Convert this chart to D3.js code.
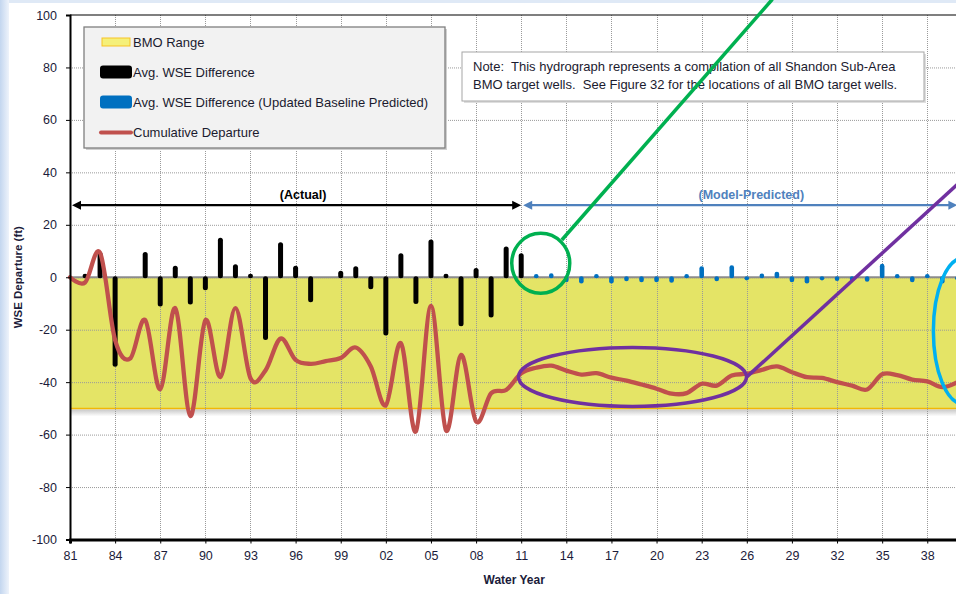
<!DOCTYPE html>
<html lang="en">
<head>
<meta charset="UTF-8">
<title>Shandon Sub-Area BMO hydrograph</title>
<script src="https://d3js.org/d3.v7.min.js"></script>
<style>
  body { margin: 0; background: #fff; }
  svg { display: block; font-family: "Liberation Sans", Arial, sans-serif; }
  text { white-space: pre; }
</style>
</head>
<body>
<div id="chart"></div>
<script>
// ---- data ----
var actualYears = [1981, 1982, 1983, 1984, 1985, 1986, 1987, 1988, 1989, 1990,
                   1991, 1992, 1993, 1994, 1995, 1996, 1997, 1998, 1999, 2000,
                   2001, 2002, 2003, 2004, 2005, 2006, 2007, 2008, 2009, 2010, 2011];
var actualDiff = [0, 0.5, 10, -34.5, 0, 10, -11.5, 4.8, -10.8, -5.3,
                  15.4, 5.3, 0.9, -24.3, 13.7, 4.8, -9.9, 0, 2.9, 4.6,
                  -5, -22.6, 9.5, -10.6, 14.8, 1.2, -19.1, 3.9, -15.7, 12.1, 9.5];

var predYears = [2012, 2013, 2014, 2015, 2016, 2017, 2018, 2019, 2020, 2021,
                 2022, 2023, 2024, 2025, 2026, 2027, 2028, 2029, 2030, 2031,
                 2032, 2033, 2034, 2035, 2036, 2037, 2038, 2039, 2040];
var predDiff = [1.5, 1.9, -2.3, -2.8, 1.0, -2.8, -1.9, -2.3, -2.3, -2.5,
                0.6, 4.6, -1.9, 5.0, -1.3, 1.8, 2.5, -2.3, -2.8, -0.8,
                -1.8, -1.8, -2.1, 5.5, 0.8, -2.3, 0.6, -2.8, -1.5];

var cumDeparture = [0, -2, 9.3, -24, -31, -16.3, -42.7, -11.8, -52.9, -16.4,
                    -38, -11.8, -38.5, -35.5, -23.4, -31.5, -33, -32, -30.8, -26.8,
                    -34, -48.8, -25.1, -58.8, -10.9, -58.4, -29.6, -55, -44.2, -43,
                    -36.6, -34.5, -33.7, -35.6, -37.1, -36.6, -38.3, -39.4, -40.9, -42.5,
                    -44.4, -44.2, -40.6, -41.3, -37.5, -36.8, -35.3, -34, -36.2, -38.1,
                    -38.4, -40, -41.3, -42.8, -37, -37.3, -39, -39.7, -41.9, -40];

var bmoRange = [0, -50];
var yTicks = [-100, -80, -60, -40, -20, 0, 20, 40, 60, 80, 100];
var xTicks = [1981, 1984, 1987, 1990, 1993, 1996, 1999, 2002, 2005, 2008,
              2011, 2014, 2017, 2020, 2023, 2026, 2029, 2032, 2035, 2038];
var legendLabels = ["BMO Range", "Avg. WSE Difference",
                    "Avg. WSE Difference (Updated Baseline Predicted)", "Cumulative Departure"];
var noteLines = ["Note:  This hydrograph represents a compilation of all Shandon Sub-Area",
                 "BMO target wells.  See Figure 32 for the locations of all BMO target wells."];

// ---- layout ----
var W = 956, H = 594;
var plotLeft = 70, plotTop = 15, plotBottom = 539.5;
var yearPx = 15.04;

var svg = d3.select("#chart").append("svg")
  .attr("width", W).attr("height", H);

var defs = svg.append("defs");
var edge = defs.append("linearGradient").attr("id", "edge");
edge.append("stop").attr("offset", "0%").attr("stop-color", "#c3d6ef");
edge.append("stop").attr("offset", "100%").attr("stop-color", "#eef3fb");
var shade = defs.append("linearGradient").attr("id", "shade")
  .attr("x1", 0).attr("y1", 0).attr("x2", 0).attr("y2", 1);
shade.append("stop").attr("offset", "0%").attr("stop-color", "#c8c8c8");
shade.append("stop").attr("offset", "100%").attr("stop-color", "#ffffff");

// page edges
svg.append("rect").attr("width", W).attr("height", 3).attr("fill", "#dfe9f6");
svg.append("rect").attr("width", 9).attr("height", H).attr("fill", "url(#edge)");

var x = d3.scaleLinear().domain([1981, 2041]).range([plotLeft, plotLeft + 60 * yearPx]);
var y = d3.scaleLinear().domain([-100, 100]).range([plotBottom, plotTop]);
var xEnd = x(2041);

// BMO band
svg.append("rect")
  .attr("x", x(1981)).attr("y", y(bmoRange[1]) + 1)
  .attr("width", xEnd - x(1981)).attr("height", 7)
  .attr("fill", "url(#shade)");
svg.append("rect")
  .attr("x", x(1981)).attr("y", y(bmoRange[0]))
  .attr("width", xEnd - x(1981)).attr("height", y(bmoRange[1]) - y(bmoRange[0]))
  .attr("fill", "#e4e466");
svg.append("line")
  .attr("x1", x(1981)).attr("x2", xEnd)
  .attr("y1", y(bmoRange[1])).attr("y2", y(bmoRange[1]))
  .attr("stroke", "#f2b705").attr("stroke-width", 1.5);

// grid
var grid = svg.append("g").attr("stroke", "#9a9a9a").attr("stroke-width", 1)
  .attr("stroke-dasharray", "1,1");
grid.selectAll(".gy").data(yTicks.filter(function(t) { return t > -100 && t < 100; }))
  .join("line")
  .attr("x1", plotLeft).attr("x2", xEnd)
  .attr("y1", function(d) { return y(d) + 0.5; }).attr("y2", function(d) { return y(d) + 0.5; });
grid.selectAll(".gx").data(xTicks.slice(1))
  .join("line")
  .attr("x1", function(d) { return Math.round(x(d)) + 0.5; })
  .attr("x2", function(d) { return Math.round(x(d)) + 0.5; })
  .attr("y1", plotTop).attr("y2", plotBottom);

// zero line
svg.append("line")
  .attr("x1", plotLeft).attr("x2", xEnd).attr("y1", y(0)).attr("y2", y(0))
  .attr("stroke", "#8c8c8c").attr("stroke-width", 2.2);

// bars
function drawBars(years, vals, color, w) {
  var rows = years.map(function(yr, i) { return { yr: yr, v: vals[i] }; })
    .filter(function(d) { return d.v !== 0; });
  function barH(d) { return Math.max(Math.abs(y(d.v) - y(0)), w * 0.9); }
  svg.append("g").selectAll("rect").data(rows).join("rect")
    .attr("x", function(d) { return x(d.yr) - w / 2; })
    .attr("y", function(d) { return d.v > 0 ? y(0) - barH(d) + 1 : y(0) - 1; })
    .attr("width", w)
    .attr("height", barH)
    .attr("rx", w / 2)
    .attr("fill", color);
}
drawBars(actualYears, actualDiff, "#000000", 5);
drawBars(predYears, predDiff, "#0070c0", 4.6);

// cumulative departure
var allYears = actualYears.concat(predYears);
var line = d3.line()
  .x(function(d, i) { return x(allYears[i]); })
  .y(function(d) { return y(d); })
  .curve(d3.curveCardinal.tension(0));
svg.append("path")
  .datum(cumDeparture)
  .attr("d", line)
  .attr("fill", "none")
  .attr("stroke", "#c0504d")
  .attr("stroke-width", 4.3)
  .attr("stroke-linejoin", "round")
  .attr("stroke-linecap", "round");

// axes
var yAxis = svg.append("g")
  .attr("transform", "translate(" + plotLeft + ",0)")
  .call(d3.axisLeft(y).tickValues(yTicks).tickSize(4).tickPadding(9)
    .tickFormat(function(d) { return String(d); }));
yAxis.select(".domain").attr("stroke", "#000").attr("stroke-width", 2);
yAxis.selectAll("text").attr("font-size", 12.5).attr("fill", "#1b1b3a");

var xAxis = svg.append("g")
  .attr("transform", "translate(0," + plotBottom + ")")
  .call(d3.axisBottom(x).tickValues(xTicks).tickSize(4).tickPadding(8)
    .tickFormat(function(d) { return String(d).slice(2); }));
xAxis.select(".domain").attr("stroke", "#000").attr("stroke-width", 3);
xAxis.selectAll("text").attr("font-size", 12.5).attr("fill", "#1b1b3a");

// top frame
svg.append("line").attr("x1", plotLeft).attr("x2", xEnd).attr("y1", plotTop).attr("y2", plotTop)
  .attr("stroke", "#000").attr("stroke-width", 1.2);

// axis titles
svg.append("text")
  .attr("transform", "translate(22," + y(0) + ") rotate(-90)")
  .attr("text-anchor", "middle")
  .attr("font-size", 11.5).attr("font-weight", "bold").attr("fill", "#1b1b3a")
  .text("WSE Departure (ft)");
svg.append("text")
  .attr("x", x(2011) - 7).attr("y", 584)
  .attr("text-anchor", "middle")
  .attr("font-size", 12).attr("font-weight", "bold").attr("fill", "#1b1b3a")
  .text("Water Year");

// period arrows
function arrow(x1, x2, yy, color, label, lx) {
  var g = svg.append("g");
  g.append("line").attr("x1", x1 + 6).attr("x2", x2 - 6).attr("y1", yy).attr("y2", yy)
    .attr("stroke", color).attr("stroke-width", 2.2);
  g.append("path").attr("d", "M" + x1 + "," + yy + "l9,-4.5v9z").attr("fill", color);
  g.append("path").attr("d", "M" + x2 + "," + yy + "l-9,-4.5v9z").attr("fill", color);
  g.append("text").attr("x", lx).attr("y", yy - 6).attr("text-anchor", "middle")
    .attr("font-size", 12.5).attr("font-weight", "bold").attr("fill", color).text(label);
}
arrow(x(1981) + 2, x(2011), y(27.5), "#000000", "(Actual)", x(1996.5));
arrow(x(2011) + 2, x(2040), y(27.5), "#4f81bd", "(Model-Predicted)", x(2026.3));

// legend
var lg = svg.append("g").attr("transform", "translate(84,27)");
lg.append("rect").attr("x", 2).attr("y", 2).attr("width", 361).attr("height", 121).attr("fill", "#d0d0d0");
lg.append("rect").attr("width", 361).attr("height", 121)
  .attr("fill", "#f2f2f2").attr("stroke", "#7f7f7f").attr("stroke-width", 1.3);
legendLabels.forEach(function(lab, i) {
  var cy = 15 + i * 30;
  if (i === 0) {
    lg.append("rect").attr("x", 18).attr("y", cy - 4).attr("width", 28).attr("height", 8)
      .attr("fill", "#f5f07a").attr("stroke", "#f7c325").attr("stroke-width", 1);
  } else if (i === 1 || i === 2) {
    lg.append("rect").attr("x", 16).attr("y", cy - 6.5).attr("width", 32).attr("height", 13)
      .attr("rx", 3).attr("fill", i === 1 ? "#000000" : "#0070c0");
  } else {
    lg.append("line").attr("x1", 17).attr("x2", 47).attr("y1", cy + 0.5).attr("y2", cy + 0.5)
      .attr("stroke", "#c0504d").attr("stroke-width", 4).attr("stroke-linecap", "round");
  }
  lg.append("text").attr("x", 49).attr("y", cy + 4.5)
    .attr("font-size", 13).attr("fill", "#1b1b2f").text(lab);
});

// note
var ng = svg.append("g").attr("transform", "translate(462,52)");
ng.append("rect").attr("x", 2).attr("y", 2).attr("width", 462).attr("height", 49).attr("fill", "#dedede");
ng.append("rect").attr("width", 462).attr("height", 49)
  .attr("fill", "#fff").attr("stroke", "#a6a6a6").attr("stroke-width", 1);
noteLines.forEach(function(t, i) {
  ng.append("text").attr("x", 11).attr("y", 19 + i * 18)
    .attr("font-size", 13).attr("fill", "#1b1b2f").text(t);
});

// hand-drawn call-outs
var callouts = svg.append("g").attr("fill", "none").attr("stroke-width", 3.5);
callouts.append("line")
  .attr("x1", x(2013.7)).attr("y1", y(14.2)).attr("x2", x(2027.7)).attr("y2", y(106))
  .attr("stroke", "#00b050");
callouts.append("ellipse")
  .attr("cx", x(2012.3)).attr("cy", y(5.3)).attr("rx", 29).attr("ry", 30)
  .attr("stroke", "#00b050");
callouts.append("ellipse")
  .attr("cx", x(2018.4)).attr("cy", y(-38)).attr("rx", 114).attr("ry", 29.5)
  .attr("stroke", "#7030a0");
callouts.append("line")
  .attr("x1", x(2026)).attr("y1", y(-38)).attr("x2", x(2040.5)).attr("y2", y(38))
  .attr("stroke", "#7030a0");
callouts.append("ellipse")
  .attr("cx", x(2040.4)).attr("cy", y(-20.5)).attr("rx", 30).attr("ry", 73)
  .attr("stroke", "#00b0f0");
</script>
</body>
</html>
